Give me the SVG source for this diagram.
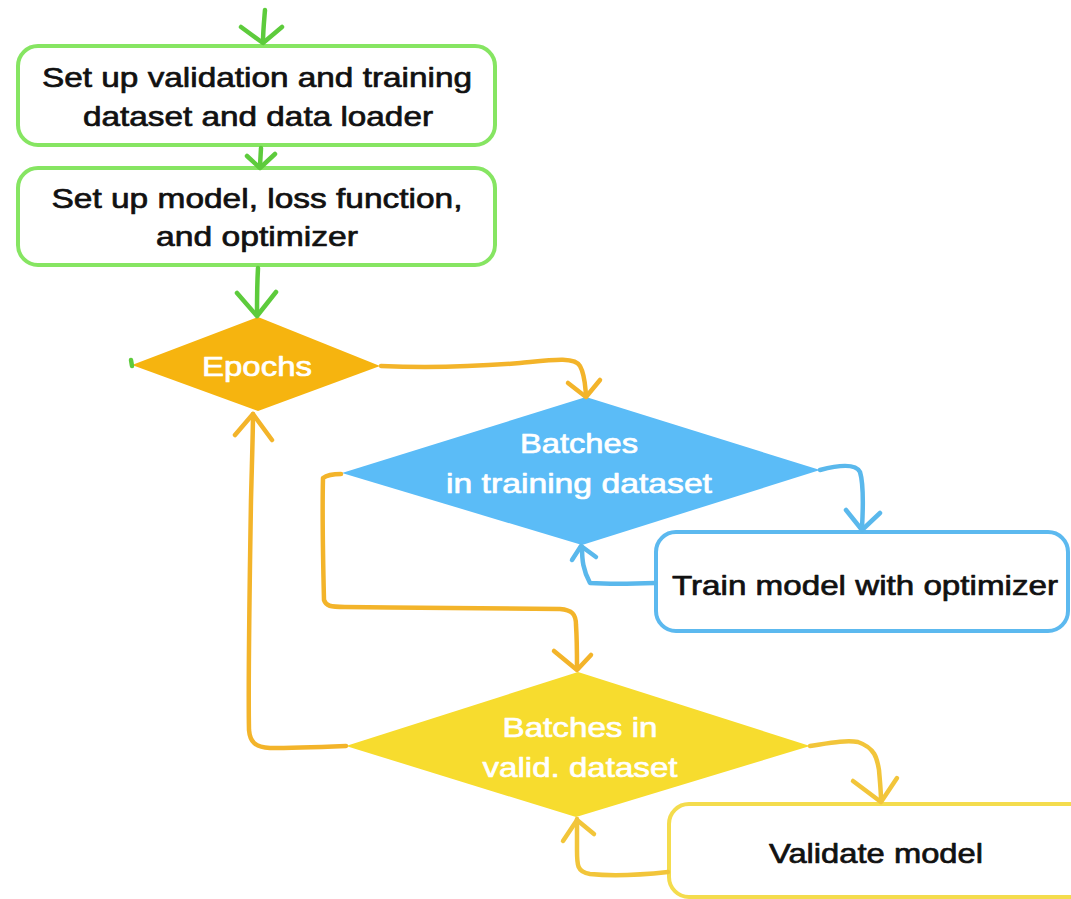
<svg xmlns="http://www.w3.org/2000/svg" width="1071" height="899" viewBox="0 0 1071 899">
  <defs>
    <style>
      .box { fill: #ffffff; stroke-width: 4; }
      .green-box { stroke: #86e562; }
      .blue-box { stroke: #5cb9ef; }
      .yellow-box { stroke: #f4dc4d; }
      .label { font-family: "Liberation Sans", Arial, sans-serif; font-size: 28px; text-anchor: middle; stroke-width: 0.7px; stroke-linejoin: round; }
      .dark { fill: #111111; stroke: #111111; }
      .light { fill: #ffffff; stroke: #ffffff; }
      .wire { fill: none; stroke-width: 4.5; stroke-linecap: round; stroke-linejoin: round; }
      .g { stroke: #5dcb3c; }
      .o { stroke: #f3b42a; }
      .b { stroke: #5ab8ec; }
      .y { stroke: #f2c53a; }
    </style>
  </defs>

  <rect width="1071" height="899" fill="#ffffff"/>

  <!-- setup steps -->
  <g id="node-datasets">
    <rect class="box green-box" x="18" y="46" width="477" height="99" rx="20"/>
    <text class="label dark" x="257" y="87" textLength="430" lengthAdjust="spacingAndGlyphs">Set up validation and training</text>
    <text class="label dark" x="258" y="126" textLength="350" lengthAdjust="spacingAndGlyphs">dataset and data loader</text>
  </g>
  <g id="node-model">
    <rect class="box green-box" x="18" y="168" width="477" height="97" rx="20"/>
    <text class="label dark" x="257" y="208" textLength="411" lengthAdjust="spacingAndGlyphs">Set up model, loss function,</text>
    <text class="label dark" x="257" y="246" textLength="202" lengthAdjust="spacingAndGlyphs">and optimizer</text>
  </g>

  <!-- epoch loop -->
  <g id="node-epochs">
    <polygon points="132,365 258,317 380,366 258,411" fill="#f6b40f"/>
    <text class="label light" x="257" y="376" textLength="110" lengthAdjust="spacingAndGlyphs">Epochs</text>
  </g>

  <!-- training batches -->
  <g id="node-train-batches">
    <polygon points="342,473 586,397 820,470 582,545" fill="#5bbcf7"/>
    <text class="label light" x="579" y="453" textLength="118" lengthAdjust="spacingAndGlyphs">Batches</text>
    <text class="label light" x="579" y="493" textLength="266" lengthAdjust="spacingAndGlyphs">in training dataset</text>
  </g>
  <g id="node-train">
    <rect class="box blue-box" x="656" y="532" width="412" height="99" rx="20"/>
    <text class="label dark" x="865" y="595" textLength="386" lengthAdjust="spacingAndGlyphs">Train model with optimizer</text>
  </g>

  <!-- validation batches -->
  <g id="node-valid-batches">
    <polygon points="346,746 578,672 810,746 576,817" fill="#f7dc2e"/>
    <text class="label light" x="580" y="737" textLength="155" lengthAdjust="spacingAndGlyphs">Batches in</text>
    <text class="label light" x="580" y="777" textLength="195" lengthAdjust="spacingAndGlyphs">valid. dataset</text>
  </g>
  <g id="node-validate">
    <rect class="box yellow-box" x="669" y="804" width="430" height="93" rx="20"/>
    <text class="label dark" x="876" y="863" textLength="214" lengthAdjust="spacingAndGlyphs">Validate model</text>
  </g>

  <!-- connectors -->
  <g id="connectors">
    <!-- entry into setup -->
    <path class="wire g" d="M265,10 C264,22 263,32 263,42"/>
    <path class="wire g" d="M241,27 L263,43 L282,27"/>
    <!-- datasets -> model -->
    <path class="wire g" d="M261,148 L260,166"/>
    <path class="wire g" d="M247,156 L260,168 L275,154"/>
    <!-- model -> epochs -->
    <path class="wire g" d="M258,268 C257,285 257,300 257,315"/>
    <path class="wire g" d="M237,293 L257,316 L276,292"/>
    <!-- stray stub at the epochs tip -->
    <path class="wire g" d="M131,360 L132,366" stroke-width="3"/>

    <!-- epochs -> training batches -->
    <path class="wire o" d="M381,366 C430,368 470,367 520,363 C550,360 575,356 580,366 C585,375 585,385 586,395"/>
    <path class="wire o" d="M568,383 L586,397 L600,380"/>

    <!-- training batches -> train step -->
    <path class="wire b" d="M820,470 C835,466 855,462 860,472 C864,485 863,510 862,528"/>
    <path class="wire b" d="M846,510 L862,530 L880,513"/>
    <!-- train step -> back to training batches -->
    <path class="wire b" d="M655,583 C630,584 605,584 590,583 C583,570 582,560 582,547"/>
    <path class="wire b" d="M572,560 L581,546 L596,557"/>

    <!-- training batches -> validation batches -->
    <path class="wire o" d="M341,474 C335,474 327,475 323,478 C322,520 323,560 324,600 C326,606 330,607 345,607 C420,608 500,608 560,609 C572,610 576,614 576,625 C577,640 577,655 577,668"/>
    <path class="wire o" d="M554,651 L577,670 L591,655"/>

    <!-- validation batches -> validate step -->
    <path class="wire y" d="M810,746 C830,743 845,740 858,742 C875,748 877,758 879,770 C880,782 881,792 881,800"/>
    <path class="wire y" d="M853,781 L881,802 L897,778"/>
    <!-- validate step -> back to validation batches -->
    <path class="wire y" d="M668,872 C640,875 610,876 590,874 C577,872 577,865 577,850 C577,838 577,828 577,819"/>
    <path class="wire y" d="M563,841 L577,820 L594,834"/>

    <!-- validation batches -> back to epochs -->
    <path class="wire o" d="M346,746 C320,747 290,748 270,748 C255,747 250,742 249,730 C248,680 250,560 251,500 C252,460 253,430 253,414"/>
    <path class="wire o" d="M235,435 L253,414 L272,440"/>
  </g>
</svg>
